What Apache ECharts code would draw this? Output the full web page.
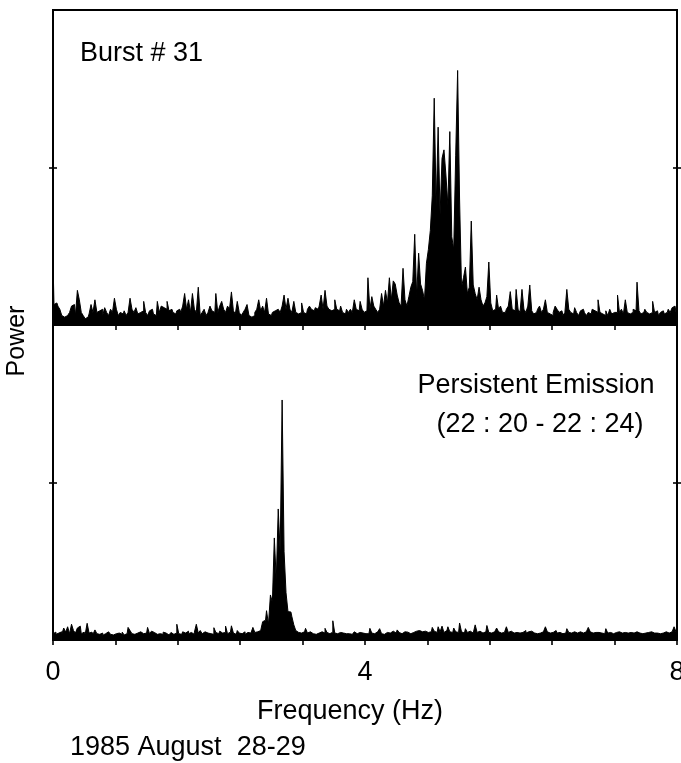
<!DOCTYPE html>
<html>
<head>
<meta charset="utf-8">
<script src="https://cdn.jsdelivr.net/npm/echarts@6/dist/echarts.min.js"></script>
<style>
html,body{margin:0;padding:0;background:#fff;}
#chart{width:681px;height:763px;}
</style>
</head>
<body>
<div id="chart"></div>
<script>
// Frequency bin width (Hz) of the power spectra
const FREQ_STEP = 0.025;

// Top panel: Burst # 31 (power, arbitrary units, 0..100 = panel height)
const burstPower = [
  20.6, 6.5, 7, 6, 5, 3, 2.5, 3,
  2.5, 4, 6, 6.5, 3, 11, 8, 4,
  3, 2, 2.5, 3.5, 6.5, 4, 8, 4,
  4.5, 5, 3, 5.5, 4, 3, 5, 4,
  8.5, 5, 3, 4, 3.5, 4.5, 3, 4,
  8.5, 5, 4, 5.5, 3.5, 4, 4.5, 7.5,
  4, 3, 4.5, 5, 3.5, 3, 7.5, 4,
  6, 5.5, 5, 7.5, 4.5, 5, 4, 3.5,
  4.5, 5, 4, 6, 10, 5, 8, 4,
  10, 5, 4, 12, 3, 4, 5, 3,
  4, 6, 4.5, 4, 10, 4, 6, 7.5,
  5, 4, 6, 5, 10.5, 4.5, 3.5, 7.5,
  4, 3, 4, 5, 6.5, 3, 2.5, 3,
  4, 5, 8, 4.5, 6, 4, 8.5, 3.5,
  3, 4, 4.5, 5, 5.5, 4, 6, 9.5,
  5, 8.5, 5, 4, 7.5, 4, 3.5, 4,
  7, 4, 3.5, 5, 6, 5, 4.5, 5.5,
  5, 6, 9.5, 5, 11, 6, 5, 4.5,
  5, 8, 5, 4.5, 6, 4, 3.5, 5,
  4, 5, 4, 8, 5, 4.5, 7.5, 5,
  4, 4.5, 15, 5, 9, 6, 5, 4,
  5, 10, 6, 11, 7, 15, 8, 14,
  13, 9.5, 7, 6, 18, 8, 6, 9,
  12, 13.8, 28.8, 9, 22.8, 13, 11, 8,
  19.6, 24, 30, 41, 72, 37.6, 62.8, 35,
  52.9, 55.6, 47.6, 38, 61.4, 28, 24, 53.7,
  80.8, 40, 12, 15, 18.4, 10, 12, 33,
  12.7, 10, 8, 12, 8, 6, 7, 9,
  20, 7, 4.5, 5, 9.5, 5, 6, 4,
  4, 5, 6, 10.6, 5, 4.5, 11.3, 5,
  4, 11.3, 5, 4, 6, 12.7, 4.5, 3.5,
  4, 5, 6, 4, 5, 8, 4, 3.5,
  3, 4, 6, 5, 4, 4.5, 3, 4,
  11.3, 5, 4, 3.5, 5.5, 4, 3, 4.5,
  5, 4, 3, 4, 3.5, 5, 4.5, 4,
  8, 4, 3.5, 3, 4.5, 3, 5, 3.5,
  4, 4, 9.5, 4, 5, 3.5, 8, 4,
  3.5, 4, 5, 4.5, 13.6, 4.5, 3.5, 4,
  5, 4, 3.5, 4, 7.5, 4, 4.5, 3,
  4, 4.5, 3.5, 4, 5, 4, 5.5, 6, 4
];

// Bottom panel: Persistent Emission (22:20 - 22:24)
const persistentPower = [
  2, 2.5, 1.8, 2.2, 2.6, 1.8, 3.8, 2.5,
  4.2, 2, 5, 3, 2.2, 3.8, 4.4, 2,
  2.5, 1.8, 5.3, 2.2, 2.5, 1.8, 3.2, 2,
  1.8, 2.2, 1.5, 2, 2.6, 2.5, 1.8, 1.6,
  2, 1.5, 2.2, 1.8, 2.5, 1.6, 2, 4,
  3, 2, 1.8, 2.2, 1.6, 2.6, 2, 1.8,
  2.2, 4, 2, 2.8, 2.4, 1.8, 2.2, 2,
  1.8, 2.5, 2.2, 1.6, 2, 2.4, 1.8, 2.2,
  5, 2, 1.8, 2.6, 2.2, 2.8, 2, 2.4,
  1.8, 2.5, 5, 2.2, 3, 2, 2.6, 2.2,
  2.4, 2, 1.8, 3.9, 2.4, 2, 2.8, 2.2,
  2.4, 4.4, 2, 2.5, 4.5, 2.2, 1.8, 3,
  2.2, 2, 2.6, 1.8, 2.4, 2.2, 2, 4,
  2.4, 2.6, 3, 3.5, 5.8, 6.3, 9.3, 5,
  14.3, 12, 32.4, 19, 41.6, 28, 76.2, 28,
  15, 9, 8.9, 7.4, 4.8, 3, 2.4, 2.2,
  2, 2.6, 3.7, 2.2, 2.6, 2, 2.2, 1.8,
  2.2, 2, 2.6, 2.2, 3.7, 2.4, 2, 2.5,
  6.1, 2.2, 2, 2.4, 1.8, 2.2, 2, 2.4,
  2, 1.8, 2.2, 2.6, 2, 2.4, 1.8, 2.2,
  2, 2.4, 2, 3.7, 2.2, 2, 2.6, 2.2,
  3.6, 2, 1.8, 2.4, 2.6, 2.2, 2.8, 2.4,
  2.2, 3.2, 2.4, 2, 2.6, 2.2, 2.5, 2,
  2.6, 2.4, 2.8, 2.2, 3, 2.6, 2.4, 2.8,
  2.4, 3, 2.6, 4, 2.8, 2.4, 4.2, 2.6,
  4.4, 2.4, 3, 4.2, 2.6, 2.4, 3.8, 2.6,
  2.4, 5.4, 2.6, 2.2, 3.6, 2.4, 2.8, 2.2,
  2.6, 4.8, 2.4, 2.8, 2.2, 2.4, 2.6, 4.6,
  2.4, 2.2, 2.6, 2.4, 3.8, 2.6, 2.2, 2.4,
  2.6, 4.2, 2.4, 2.8, 2.2, 2.6, 2.4, 2.2,
  2.6, 2.4, 3, 2.2, 2.6, 2.8, 2.4, 2.2,
  2, 2.4, 2.2, 2.6, 2.4, 4.2, 2.6, 2.2,
  2.4, 2.6, 3, 2.2, 2.4, 2, 2.6, 2.2,
  3.6, 2.4, 2.2, 2.6, 2.4, 2.2, 2.6, 2.4,
  2.2, 2.6, 2.4, 4, 2.6, 2.2, 2.4, 2.6,
  2.4, 2.2, 2.6, 2, 3.6, 2.2, 2.4, 2,
  2.2, 2.4, 2.6, 2, 2.2, 2.4, 2.6, 2.2,
  2.4, 2, 2.2, 2.6, 2.4, 2.2, 2, 2.4,
  2.2, 2.4, 2, 2.6, 2.2, 2.4, 2.2, 2,
  2.4, 2.2, 2.6, 2.4, 2.2, 2.6, 3, 4.2, 2.6
];

// Axis tick labels
const xTickValues = [0, 4, 8];
const xTickLabels = ['0', '4', '8'];
const yTickValues = [50];

// Text
const panelTitles = ['Burst # 31', 'Persistent Emission', '(22 : 20 - 22 : 24)'];
const xAxisName = 'Frequency (Hz)';
const yAxisName = 'Power';
const footnote = '1985 August  28-29';

const FONT = "'Liberation Sans', Arial, 'DejaVu Sans', sans-serif";

function toPairs(arr) {
  return arr.map((v, i) => [+(i * FREQ_STEP).toFixed(3), v]);
}

const chart = echarts.init(document.getElementById('chart'), null, { renderer: 'canvas' });

function makeX(gridIndex, showLabels) {
  return {
    type: 'value', gridIndex: gridIndex, min: 0, max: 8, interval: 0.8,
    axisLine: { show: true, onZero: false, lineStyle: { color: '#000', width: 2 } },
    axisTick: { show: true, inside: false, length: 5, lineStyle: { color: '#000', width: 1.6 } },
    axisLabel: showLabels ? {
      show: true, customValues: xTickValues, color: '#000', fontSize: 27, fontFamily: FONT, margin: 19,
      hideOverlap: false,
      formatter: function (v) { const k = xTickValues.indexOf(Math.round(v)); return k >= 0 ? xTickLabels[k] : ''; }
    } : { show: false },
    splitLine: { show: false }
  };
}
function makeY(gridIndex, position, inside) {
  return {
    type: 'value', gridIndex: gridIndex, min: 0, max: 100, position: position,
    axisLine: { show: true, lineStyle: { color: '#000', width: 2 } },
    axisTick: { show: true, inside: inside, length: 4, customValues: yTickValues, lineStyle: { color: '#000', width: 1.6 } },
    axisLabel: { show: false },
    splitLine: { show: false }
  };
}

const option = {
  animation: false,
  backgroundColor: '#fff',
  grid: [
    { left: 53, top: 10, width: 624, height: 315, containLabel: false, outerBoundsMode: 'none', show: true, borderColor: '#000', borderWidth: 2, backgroundColor: 'transparent' },
    { left: 53, top: 325, width: 624, height: 315, containLabel: false, outerBoundsMode: 'none', show: true, borderColor: '#000', borderWidth: 2, backgroundColor: 'transparent' }
  ],
  xAxis: [makeX(0, false), makeX(1, true)],
  yAxis: [
    makeY(0, 'left', false), makeY(0, 'right', false), makeY(0, 'left', true), makeY(0, 'right', true),
    makeY(1, 'left', false), makeY(1, 'right', false), makeY(1, 'left', true), makeY(1, 'right', true)
  ],
  series: [
    {
      type: 'line', xAxisIndex: 0, yAxisIndex: 0, data: toPairs(burstPower),
      showSymbol: false, symbol: 'none', smooth: false, step: 'middle',
      lineStyle: { color: '#000', width: 1 },
      areaStyle: { color: '#000', opacity: 1 }
    },
    {
      type: 'line', xAxisIndex: 1, yAxisIndex: 4, data: toPairs(persistentPower),
      showSymbol: false, symbol: 'none', smooth: false, step: 'middle',
      lineStyle: { color: '#000', width: 1 },
      areaStyle: { color: '#000', opacity: 1 }
    }
  ],
  graphic: [
    { type: 'text', left: 80, top: 40, style: { text: panelTitles[0], font: '27px ' + FONT, fill: '#000' } },
    { type: 'text', x: 536, y: 386, style: { text: panelTitles[1], font: '27px ' + FONT, fill: '#000', textAlign: 'center', textVerticalAlign: 'middle' } },
    { type: 'text', x: 540, y: 425, style: { text: panelTitles[2], font: '27px ' + FONT, fill: '#000', textAlign: 'center', textVerticalAlign: 'middle' } },
    { type: 'text', x: 350, y: 712, style: { text: xAxisName, font: '27px ' + FONT, fill: '#000', textAlign: 'center', textVerticalAlign: 'middle' } },
    { type: 'text', x: 70, y: 748, style: { text: footnote, font: '27px ' + FONT, fill: '#000', textAlign: 'left', textVerticalAlign: 'middle' } },
    { type: 'text', x: 17, y: 341, rotation: Math.PI / 2, style: { text: yAxisName, font: '25px ' + FONT, fill: '#000', textAlign: 'center', textVerticalAlign: 'middle' } }
  ]
};
chart.setOption(option);
</script>
</body>
</html>
